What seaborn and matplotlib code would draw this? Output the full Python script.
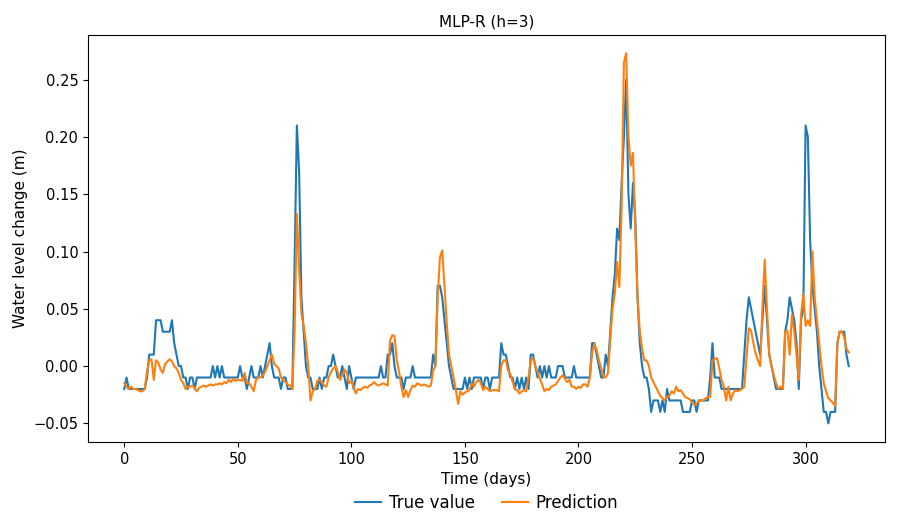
import numpy as np
import pandas as pd
import matplotlib
matplotlib.use("Agg")
import matplotlib.pyplot as plt
import seaborn as sns

true_value = [
    -0.02,-0.01,-0.02,-0.02,-0.02,-0.02,-0.02,-0.02,-0.02,-0.02,
    -0.01,0.01,0.01,0.01,0.04,0.04,0.04,0.03,0.03,0.03,
    0.03,0.04,0.02,0.01,0.00,0.00,-0.01,-0.01,-0.02,-0.01,
    -0.01,-0.02,-0.01,-0.01,-0.01,-0.01,-0.01,-0.01,-0.01,0.00,
    -0.01,0.00,-0.01,0.00,-0.01,-0.01,-0.01,-0.01,-0.01,-0.01,
    -0.01,0.00,-0.01,-0.01,-0.02,-0.01,0.00,-0.01,-0.01,-0.01,
    0.00,-0.01,0.00,0.01,0.02,0.00,-0.01,-0.01,-0.01,-0.02,
    -0.01,-0.01,-0.02,-0.02,-0.02,0.09,0.21,0.17,0.06,0.03,
    0.00,-0.01,-0.01,-0.02,-0.02,-0.02,-0.01,-0.02,-0.01,-0.01,
    0.00,0.00,0.01,0.00,-0.01,-0.01,0.00,-0.01,-0.02,0.00,
    -0.01,-0.02,-0.01,-0.01,-0.01,-0.01,-0.01,-0.01,-0.01,-0.01,
    -0.01,-0.01,-0.01,0.00,-0.01,-0.01,0.01,0.01,0.02,0.00,
    -0.01,-0.01,-0.01,-0.02,-0.01,-0.01,-0.01,0.00,-0.01,-0.01,
    -0.01,-0.01,-0.01,-0.01,-0.01,-0.01,0.01,0.00,0.07,0.07,
    0.06,0.04,0.02,0.00,-0.01,-0.02,-0.02,-0.02,-0.02,-0.02,
    -0.01,-0.02,-0.01,-0.02,-0.01,-0.01,-0.01,-0.01,-0.02,-0.01,
    -0.01,-0.02,-0.01,-0.01,-0.01,-0.01,0.02,0.01,0.01,0.00,
    -0.01,-0.01,-0.02,-0.01,-0.02,-0.01,-0.02,-0.01,-0.02,0.01,
    0.01,0.00,-0.01,0.00,-0.01,0.00,-0.01,0.00,-0.01,-0.01,
    -0.01,0.00,0.00,0.00,-0.01,-0.01,-0.01,-0.01,0.00,-0.01,
    -0.01,-0.01,-0.01,-0.01,-0.01,-0.01,0.02,0.02,0.01,0.00,
    -0.01,-0.01,0.01,0.00,0.03,0.06,0.08,0.12,0.11,0.16,
    0.20,0.25,0.15,0.12,0.16,0.13,0.06,0.02,0.00,-0.01,
    -0.01,-0.02,-0.04,-0.03,-0.03,-0.03,-0.04,-0.03,-0.04,-0.02,
    -0.03,-0.03,-0.03,-0.03,-0.03,-0.03,-0.04,-0.04,-0.04,-0.04,
    -0.03,-0.03,-0.04,-0.03,-0.03,-0.03,-0.03,-0.03,-0.01,0.02,
    -0.01,-0.01,-0.01,-0.02,-0.02,-0.02,-0.02,-0.02,-0.02,-0.02,
    -0.02,-0.02,-0.02,0.01,0.04,0.06,0.05,0.04,0.03,0.02,
    0.01,0.04,0.07,0.04,0.01,0.00,-0.01,-0.02,-0.02,-0.02,
    -0.02,0.03,0.04,0.06,0.05,0.04,0.02,-0.02,0.04,0.05,
    0.21,0.20,0.11,0.07,0.05,0.03,0.00,-0.02,-0.04,-0.04,
    -0.05,-0.04,-0.04,-0.04,0.02,0.03,0.03,0.03,0.01,0.00,
]

prediction = [
    -0.015,-0.018,-0.020,-0.018,-0.020,-0.020,-0.021,-0.022,-0.022,-0.020,
    -0.005,0.005,0.006,-0.012,0.005,0.003,-0.003,-0.006,0.002,0.004,
    0.006,0.004,0.000,-0.002,-0.006,-0.012,-0.015,-0.020,-0.018,-0.018,
    -0.017,-0.019,-0.022,-0.019,-0.018,-0.017,-0.018,-0.017,-0.016,-0.017,
    -0.016,-0.016,-0.015,-0.016,-0.014,-0.015,-0.012,-0.014,-0.011,-0.013,
    -0.012,-0.012,-0.013,-0.006,-0.015,-0.015,-0.018,-0.022,-0.012,-0.010,
    -0.010,-0.008,-0.005,0.000,0.005,0.010,0.002,0.000,-0.002,-0.010,
    -0.012,-0.014,-0.016,-0.017,-0.020,0.030,0.133,0.085,0.046,0.035,
    0.020,0.000,-0.030,-0.022,-0.020,-0.013,-0.012,-0.014,-0.017,-0.018,
    -0.010,-0.005,-0.002,0.000,-0.005,-0.012,-0.008,-0.003,-0.006,-0.015,
    -0.013,-0.018,-0.024,-0.020,-0.021,-0.019,-0.018,-0.019,-0.017,-0.016,
    -0.014,-0.016,-0.017,-0.016,-0.015,-0.016,-0.017,0.022,0.027,0.026,
    0.005,-0.005,-0.018,-0.027,-0.021,-0.027,-0.021,-0.017,-0.018,-0.015,
    -0.016,-0.017,-0.016,-0.017,-0.018,-0.017,-0.004,0.000,0.060,0.095,
    0.101,0.070,0.037,0.010,0.000,-0.010,-0.021,-0.033,-0.022,-0.025,
    -0.023,-0.022,-0.021,-0.015,-0.018,-0.014,-0.012,-0.015,-0.021,-0.018,
    -0.020,-0.022,-0.021,-0.021,-0.021,-0.022,0.000,0.005,0.005,-0.004,
    -0.007,-0.014,-0.020,-0.021,-0.024,-0.022,-0.021,-0.022,-0.010,0.005,
    0.007,0.000,-0.005,-0.011,-0.016,-0.022,-0.020,-0.021,-0.018,-0.017,
    -0.016,-0.013,-0.010,-0.008,-0.011,-0.014,-0.012,-0.018,-0.018,-0.020,
    -0.018,-0.019,-0.016,-0.016,-0.018,-0.010,0.011,0.020,0.014,0.005,
    -0.002,-0.009,-0.010,-0.006,0.023,0.050,0.063,0.091,0.069,0.139,
    0.265,0.273,0.200,0.175,0.186,0.120,0.060,0.030,0.015,0.005,
    0.005,0.000,-0.010,-0.014,-0.018,-0.022,-0.026,-0.028,-0.030,-0.027,
    -0.026,-0.022,-0.024,-0.018,-0.022,-0.021,-0.024,-0.027,-0.028,-0.029,
    -0.032,-0.034,-0.033,-0.030,-0.030,-0.030,-0.028,-0.027,-0.027,0.005,
    0.006,0.007,-0.002,-0.012,-0.018,-0.030,-0.018,-0.030,-0.024,-0.021,
    -0.022,-0.021,-0.020,-0.018,0.008,0.033,0.031,0.020,0.011,0.005,
    0.000,0.052,0.093,0.050,0.010,0.000,-0.008,-0.015,-0.020,-0.018,
    -0.020,0.030,0.031,0.010,0.045,0.030,0.010,-0.012,0.045,0.063,
    0.035,0.040,0.035,0.100,0.060,0.040,0.020,0.000,-0.015,-0.022,
    -0.028,-0.030,-0.032,-0.035,0.020,0.030,0.030,0.025,0.015,0.012,
]

series_names = ["True value", "Prediction"]
colors = ["#1f77b4", "#ff7f0e"]

df = pd.concat([
    pd.DataFrame({"day": np.arange(len(true_value)), "value": true_value,
                  "series": series_names[0]}),
    pd.DataFrame({"day": np.arange(len(prediction)), "value": prediction,
                  "series": series_names[1]}),
], ignore_index=True)

plt.rcParams["font.family"] = ["DejaVu Sans"]
fig = plt.figure(figsize=(9.01, 5.12), dpi=100)
ax = fig.add_axes([0.0977, 0.137, 0.8845, 0.795])

sns.lineplot(data=df, x="day", y="value", hue="series", hue_order=series_names,
             palette=colors, linewidth=1.5, ax=ax, estimator=None)

ax.set_title("MLP-R (h=3)", fontsize=11)
ax.set_xlabel("Time (days)", fontsize=11)
ax.set_ylabel("Water level change (m)", fontsize=11)
ax.tick_params(labelsize=10.5)
ax.set_yticks([-0.05, 0.0, 0.05, 0.10, 0.15, 0.20, 0.25])
ax.set_xticks([0, 50, 100, 150, 200, 250, 300])

sns.move_legend(ax, "center", bbox_to_anchor=(0.5, -0.15),
                bbox_transform=ax.transAxes, ncol=2, frameon=False,
                title=None, fontsize=12, handlelength=1.6,
                handletextpad=0.45, columnspacing=1.6, borderaxespad=0,
                borderpad=0)

fig.savefig("out.png", dpi=100)
